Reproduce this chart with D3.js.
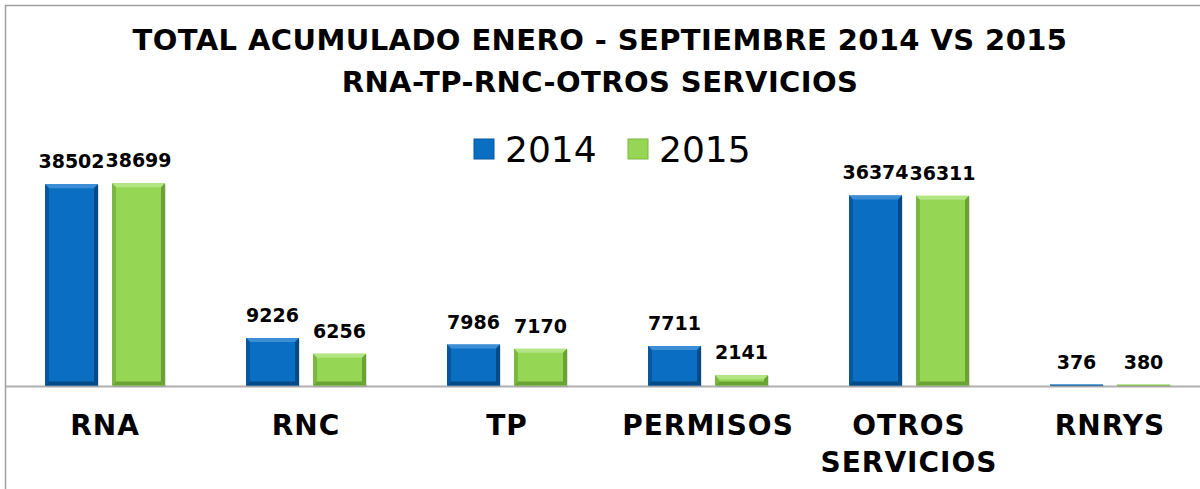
<!DOCTYPE html>
<html lang="es">
<head>
    <meta charset="UTF-8">
    <title>Total acumulado enero - septiembre 2014 vs 2015</title>
    <script src="https://d3js.org/d3.v7.min.js"></script>
    <style>
        body { margin: 0; background: white; font-family: "DejaVu Sans", Verdana, sans-serif; }
        svg { display: block; }
    </style>
</head>
<body>
    <div id="chart"></div>
    <script>
        // chart data
        const categories = ["RNA", "RNC", "TP", "PERMISOS", "OTROS SERVICIOS", "RNRYS"];
        const years = ["2014", "2015"];
        const values2014 = [38502, 9226, 7986, 7711, 36374, 376];
        const values2015 = [38699, 6256, 7170, 2141, 36311, 380];
        const titleLines = ["TOTAL ACUMULADO ENERO - SEPTIEMBRE 2014 VS 2015", "RNA-TP-RNC-OTROS SERVICIOS"];

        const width = 1200, height = 489;
        const baseY = 386.5;

        const colors = {
            "2014": { main: "#0a6fc2", light: "#3b8ed6", dark: "#05589e", darker: "#044a86" },
            "2015": { main: "#95d655", light: "#b3e582", dark: "#7bb840", darker: "#6aa234" }
        };

        const svg = d3.select("#chart")
            .append("svg")
            .attr("width", width)
            .attr("height", height);

        // outer frame
        svg.append("rect")
            .attr("x", 5.5).attr("y", 5.5)
            .attr("width", width + 10).attr("height", height + 10)
            .attr("fill", "white")
            .attr("stroke", "#a0a0a0")
            .attr("stroke-width", 1.5);

        // title
        svg.append("text")
            .attr("x", 600)
            .attr("text-anchor", "middle")
            .attr("font-weight", "bold")
            .attr("font-size", "29px")
            .attr("letter-spacing", "0.4px")
            .attr("fill", "black")
            .selectAll("tspan")
            .data(titleLines)
            .enter()
            .append("tspan")
            .attr("x", 600)
            .attr("y", (d, i) => 50 + i * 42)
            .text(d => d);

        const x0 = d3.scaleBand()
            .domain(categories)
            .range([4.5, 1210.5])
            .paddingInner(0)
            .paddingOuter(0);

        // bars 53px wide with 14px gap inside a 201px band
        const x1 = d3.scaleBand()
            .domain(years)
            .range([40.5, 160.5])
            .paddingInner(14 / 67);

        const y = d3.scaleLinear()
            .domain([0, 40000])
            .range([baseY, baseY - 210.1]);

        const rows = [];
        categories.forEach((c, i) => {
            rows.push({ cat: c, year: "2014", value: values2014[i] });
            rows.push({ cat: c, year: "2015", value: values2015[i] });
        });

        // axis line
        svg.append("line")
            .attr("x1", 6).attr("x2", width)
            .attr("y1", baseY).attr("y2", baseY)
            .attr("stroke", "#b0b0b0")
            .attr("stroke-width", 2);

        const bars = svg.selectAll(".bar")
            .data(rows)
            .enter()
            .append("g")
            .attr("class", "bar");

        // draw each bar with a small bevel on its edges
        bars.each(function(d) {
            const g = d3.select(this);
            const bx = x0(d.cat) + x1(d.year);
            const bw = x1.bandwidth();
            const by = y(d.value);
            const bh = baseY - 1 - by;
            const b = Math.min(4, bh / 2);
            const c = colors[d.year];

            g.append("rect")
                .attr("x", bx + 1).attr("y", by + 1)
                .attr("width", bw).attr("height", bh)
                .attr("fill", "rgba(0,0,0,0.12)");
            g.append("rect")
                .attr("x", bx).attr("y", by)
                .attr("width", bw).attr("height", bh)
                .attr("fill", c.main);
            const pts = (arr) => arr.map(p => p.join(",")).join(" ");
            g.append("polygon")
                .attr("points", pts([[bx, by], [bx + bw, by], [bx + bw - b, by + b], [bx + b, by + b]]))
                .attr("fill", c.light);
            g.append("polygon")
                .attr("points", pts([[bx, by], [bx + b, by + b], [bx + b, by + bh - b], [bx, by + bh]]))
                .attr("fill", c.dark);
            g.append("polygon")
                .attr("points", pts([[bx + bw, by], [bx + bw, by + bh], [bx + bw - b, by + bh - b], [bx + bw - b, by + b]]))
                .attr("fill", c.darker);
            g.append("polygon")
                .attr("points", pts([[bx, by + bh], [bx + b, by + bh - b], [bx + bw - b, by + bh - b], [bx + bw, by + bh]]))
                .attr("fill", c.darker);
        });

        // value labels
        svg.selectAll(".value-label")
            .data(rows)
            .enter()
            .append("text")
            .attr("class", "value-label")
            .attr("x", d => x0(d.cat) + x1(d.year) + x1.bandwidth() / 2)
            .attr("y", d => y(d.value) - 16)
            .attr("text-anchor", "middle")
            .attr("font-weight", "bold")
            .attr("font-size", "19px")
            .attr("fill", "black")
            .text(d => d.value);

        // category labels, wrapped on spaces
        const catLabels = svg.selectAll(".cat-label")
            .data(categories)
            .enter()
            .append("text")
            .attr("class", "cat-label")
            .attr("text-anchor", "middle")
            .attr("font-weight", "bold")
            .attr("font-size", "28px")
            .attr("letter-spacing", "1px")
            .attr("fill", "black");

        catLabels.selectAll("tspan")
            .data(d => d.split(" ").map(w => ({ w: w, cat: d })))
            .enter()
            .append("tspan")
            .attr("x", d => x0(d.cat) + x0.bandwidth() / 2)
            .attr("y", (d, i) => 435 + i * 37)
            .text(d => d.w);

        // legend
        const legend = svg.selectAll(".legend")
            .data(years)
            .enter()
            .append("g")
            .attr("class", "legend")
            .attr("transform", (d, i) => `translate(${474 + i * 154},139)`);

        legend.append("rect")
            .attr("width", 20).attr("height", 20)
            .attr("fill", d => colors[d].main)
            .attr("stroke", d => colors[d].dark)
            .attr("stroke-width", 1);

        legend.append("text")
            .attr("x", 31)
            .attr("y", 23)
            .attr("font-size", "36px")
            .attr("fill", "black")
            .text(d => d);
    </script>
</body>
</html>
